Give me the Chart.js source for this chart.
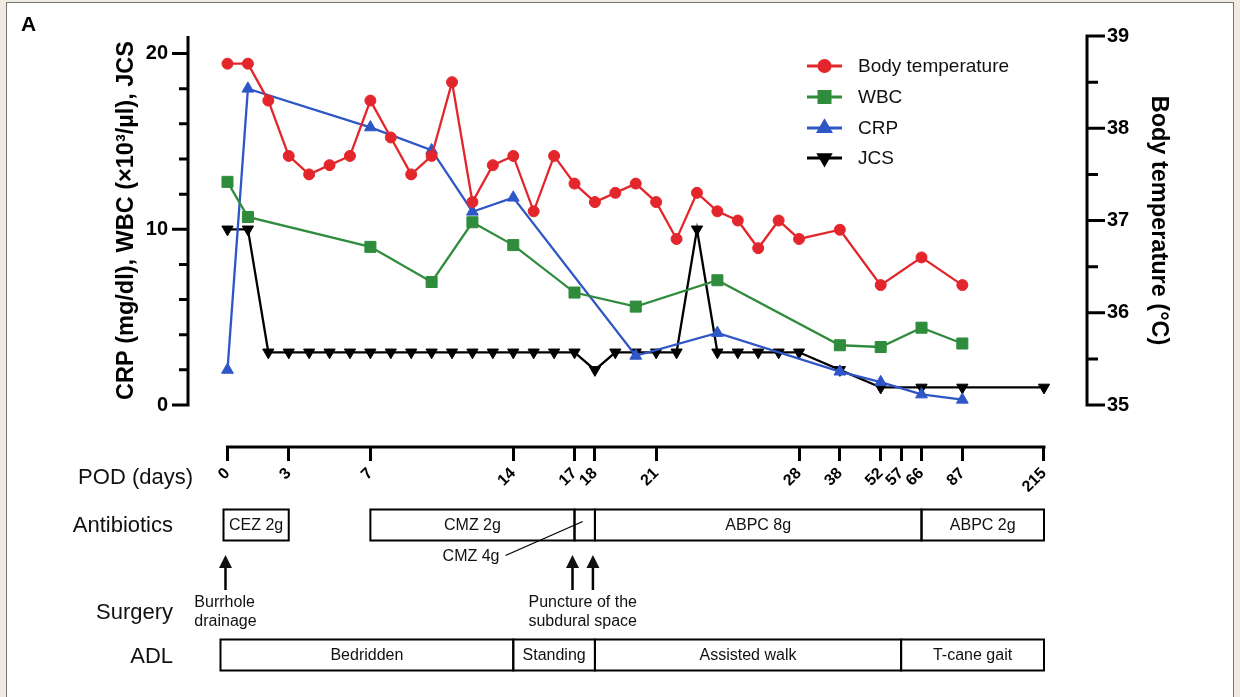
<!DOCTYPE html>
<html lang="en">
<head>
<meta charset="UTF-8">
<title>Clinical course</title>
<style>
    body {
        margin: 0;
        background: #efebe2;
    }
    .frame {
        position: absolute;
        left: 6px;
        top: 2px;
        width: 1226px;
        height: 700px;
        background: #fff;
        border: 1px solid #777;
        border-bottom: none;
    }
    .wrap {
        position: absolute;
        left: 0;
        top: 0;
        width: 1240px;
        height: 697px;
    }
</style>
<script src="https://cdn.jsdelivr.net/npm/chart.js"></script>
</head>
<body>
<div class="frame"></div>
<div class="wrap"><canvas id="courseChart" width="1240" height="697"></canvas></div>

<script>
    // x axis is broken after day 28: one slot per day, wider steps afterwards
    const slotDays = [0, 1, 2, 3, 4, 5, 6, 7, 8, 9, 10, 11, 12, 13, 14, 15, 16, 17, 18, 19, 20,
        21, 22, 23, 24, 25, 26, 27, 28, null, 38, null, 52, 57, 66, null, 87, null, null, null, 215];
    const podTicks = [0, 3, 7, 14, 17, 18, 21, 28, 38, 52, 57, 66, 87, 215];

    const tempDays = [0, 1, 2, 3, 4, 5, 6, 7, 8, 9, 10, 11, 12, 13, 14, 15, 16, 17, 18, 19, 20,
        21, 22, 23, 24, 25, 26, 27, 28, 38, 52, 66, 87];
    const tempValues = [38.7, 38.7, 38.3, 37.7, 37.5, 37.6, 37.7, 38.3, 37.9, 37.5, 37.7, 38.5, 37.2,
        37.6, 37.7, 37.1, 37.7, 37.4, 37.2, 37.3, 37.4, 37.2, 36.8, 37.3, 37.1, 37.0, 36.7, 37.0,
        36.8, 36.9, 36.3, 36.6, 36.3];

    const wbcDays = [0, 1, 7, 10, 12, 14, 17, 20, 24, 38, 52, 66, 87];
    const wbcValues = [12.7, 10.7, 9.0, 7.0, 10.4, 9.1, 6.4, 5.6, 7.1, 3.4, 3.3, 4.4, 3.5];

    const crpDays = [0, 1, 7, 10, 12, 14, 20, 24, 38, 52, 66, 87];
    const crpValues = [2.0, 18.0, 15.8, 14.5, 11.0, 11.8, 2.8, 4.1, 1.9, 1.3, 0.6, 0.3];

    const jcsDays = [0, 1, 2, 3, 4, 5, 6, 7, 8, 9, 10, 11, 12, 13, 14, 15, 16, 17, 18, 19, 20,
        21, 22, 23, 24, 25, 26, 27, 28, 38, 52, 66, 87, 215];
    const jcsValues = [10, 10, 3, 3, 3, 3, 3, 3, 3, 3, 3, 3, 3, 3, 3, 3, 3, 3, 2, 3, 3,
        3, 3, 10, 3, 3, 3, 3, 3, 2, 1, 1, 1, 1];

    const antibioticNames = ['CEZ 2g', 'CMZ 2g', 'CMZ 4g', 'ABPC 8g', 'ABPC 2g'];
    const antibioticStart = [0, 7, 17, 18, 66];
    const antibioticEnd = [3, 17, 18, 66, 215];

    const surgeryDays = [0, 17, 18];
    const surgeryNoteDays = [[0], [17, 18]];
    const surgeryNotes = [['Burrhole', 'drainage'], ['Puncture of the', 'subdural space']];

    const adlNames = ['Bedridden', 'Standing', 'Assisted walk', 'T-cane gait'];
    const adlStart = [0, 14, 18, 57];
    const adlEnd = [14, 18, 57, 215];

    const FONT = "'Liberation Sans', Arial, sans-serif";
    const RED = '#e3262b';
    const GREEN = '#2f8c3c';
    const BLUE = '#2f56c6';
    const BLACK = '#000';

    function slot(day) {
        return slotDays.indexOf(day);
    }
    function toPoints(days, values) {
        return days.map((d, i) => ({ x: slot(d), y: values[i] }));
    }

    function series(label, days, values, color, style, radius, axis, rotation) {
        return {
            label: label,
            data: toPoints(days, values),
            yAxisID: axis,
            borderColor: color,
            backgroundColor: color,
            pointBackgroundColor: color,
            pointBorderColor: color,
            pointStyle: style,
            pointRadius: radius,
            pointRotation: rotation || 0,
            pointBorderWidth: 1,
            borderWidth: 2.3,
            tension: 0
        };
    }

    // axis lines, titles, legend and the timeline rows under the axis
    const decorPlugin = {
        id: 'decor',
        afterDraw(chart) {
            const ctx = chart.ctx;
            const area = chart.chartArea;
            const xs = chart.scales.x;
            const yl = chart.scales.y;
            const yr = chart.scales.yT;
            const px = d => xs.getPixelForValue(slot(d));
            ctx.save();
            ctx.strokeStyle = '#000';
            ctx.fillStyle = '#000';
            ctx.lineCap = 'butt';

            // left axis
            ctx.lineWidth = 3;
            ctx.beginPath();
            ctx.moveTo(area.left, yl.getPixelForValue(0) + 1.5);
            ctx.lineTo(area.left, yl.getPixelForValue(21));
            for (let v = 0; v <= 20; v += 2) {
                const len = v % 10 === 0 ? 16 : 9;
                const y = yl.getPixelForValue(v);
                ctx.moveTo(area.left - len, y);
                ctx.lineTo(area.left, y);
            }
            ctx.stroke();

            // right axis
            ctx.beginPath();
            ctx.moveTo(area.right, yr.getPixelForValue(35) + 1.5);
            ctx.lineTo(area.right, yr.getPixelForValue(39) - 1.5);
            for (let v = 35; v <= 39; v += 0.5) {
                const len = v % 1 === 0 ? 18 : 11;
                const y = yr.getPixelForValue(v);
                ctx.moveTo(area.right, y);
                ctx.lineTo(area.right + len, y);
            }
            ctx.stroke();

            // x axis line
            ctx.beginPath();
            ctx.moveTo(px(0) - 1.5, area.bottom);
            ctx.lineTo(px(215) + 1.5, area.bottom);
            ctx.stroke();

            // axis titles
            ctx.font = 'bold 23.5px ' + FONT;
            ctx.textAlign = 'center';
            ctx.textBaseline = 'middle';
            ctx.save();
            ctx.translate(127, (yl.getPixelForValue(0) + yl.getPixelForValue(21)) / 2);
            ctx.rotate(-Math.PI / 2);
            ctx.fillText('CRP (mg/dl), WBC (×10³/µl), JCS', 0, 0);
            ctx.restore();
            ctx.save();
            ctx.translate(1158, (yr.getPixelForValue(35) + yr.getPixelForValue(39)) / 2);
            ctx.rotate(Math.PI / 2);
            ctx.fillText('Body temperature (°C)', 0, 0);
            ctx.restore();

            // panel letter
            ctx.font = 'bold 21px ' + FONT;
            ctx.textAlign = 'left';
            ctx.fillText('A', 21, 25);

            // legend
            const rows = [66, 97, 128, 158];
            chart.data.datasets.forEach((ds, i) => {
                const y = rows[i];
                ctx.strokeStyle = ds.borderColor;
                ctx.lineWidth = 3;
                ctx.beginPath();
                ctx.moveTo(807, y);
                ctx.lineTo(842, y);
                ctx.stroke();
                Chart.helpers.drawPoint(ctx, {
                    pointStyle: ds.pointStyle,
                    radius: ds.pointRadius,
                    rotation: ds.pointRotation,
                    borderWidth: 1
                }, 824.5, y);
                ctx.fillStyle = ds.borderColor;
                ctx.fill();
                ctx.fillStyle = '#111';
                ctx.font = '19px ' + FONT;
                ctx.textAlign = 'left';
                ctx.textBaseline = 'middle';
                ctx.fillText(ds.label, 858, y + 1);
            });

            // row labels
            ctx.fillStyle = '#111';
            ctx.strokeStyle = '#000';
            ctx.font = '22px ' + FONT;
            ctx.textAlign = 'right';
            ctx.fillText('POD (days)', 193, 478);
            ctx.fillText('Antibiotics', 173, 526);
            ctx.fillText('Surgery', 173, 613);
            ctx.fillText('ADL', 173, 657);

            // antibiotics
            const abTop = 509.5, abH = 31;
            ctx.lineWidth = 2;
            ctx.font = '16px ' + FONT;
            ctx.textAlign = 'center';
            antibioticNames.forEach((name, i) => {
                const x1 = px(antibioticStart[i]) - (antibioticStart[i] === 0 ? 4 : 0);
                const x2 = px(antibioticEnd[i]);
                ctx.strokeRect(x1, abTop, x2 - x1, abH);
                const w = ctx.measureText(name).width;
                if (w < x2 - x1 - 4) {
                    ctx.fillText(name, (x1 + x2) / 2, abTop + abH / 2 + 1);
                } else {
                    // too narrow: label below with a leader line
                    const right = x1 - 75;
                    ctx.textAlign = 'right';
                    ctx.fillText(name, right, abTop + abH + 16);
                    ctx.textAlign = 'center';
                    ctx.lineWidth = 1.3;
                    ctx.beginPath();
                    ctx.moveTo(right + 6, abTop + abH + 15);
                    ctx.lineTo((x1 + x2) / 2 - 2, abTop + 12);
                    ctx.stroke();
                    ctx.lineWidth = 2;
                }
            });

            // surgery arrows
            surgeryDays.forEach(d => {
                const x = px(d) - 2;
                ctx.lineWidth = 2.5;
                ctx.beginPath();
                ctx.moveTo(x, 590);
                ctx.lineTo(x, 566);
                ctx.stroke();
                ctx.beginPath();
                ctx.moveTo(x, 555);
                ctx.lineTo(x - 6.5, 568);
                ctx.lineTo(x + 6.5, 568);
                ctx.closePath();
                ctx.fill();
            });
            ctx.font = '16px ' + FONT;
            ctx.textAlign = 'left';
            surgeryNotes.forEach((lines, i) => {
                const days = surgeryNoteDays[i];
                const cx = days.reduce((s, d) => s + px(d), 0) / days.length - 2;
                const w = Math.max(...lines.map(l => ctx.measureText(l).width));
                lines.forEach((l, j) => ctx.fillText(l, cx - w / 2, 602.5 + j * 19));
            });

            // ADL
            const adlTop = 639.5, adlH = 31;
            ctx.lineWidth = 2;
            ctx.textAlign = 'center';
            adlNames.forEach((name, i) => {
                const x1 = px(adlStart[i]) - (adlStart[i] === 0 ? 7 : 0);
                const x2 = px(adlEnd[i]);
                ctx.strokeRect(x1, adlTop, x2 - x1, adlH);
                ctx.fillText(name, (x1 + x2) / 2, adlTop + adlH / 2 + 1);
            });
            ctx.restore();
        }
    };

    const ctx = document.getElementById('courseChart').getContext('2d');
    new Chart(ctx, {
        type: 'line',
        data: {
            datasets: [
                series('Body temperature', tempDays, tempValues, RED, 'circle', 5.5, 'yT'),
                series('WBC', wbcDays, wbcValues, GREEN, 'rect', 7.8, 'y'),
                series('CRP', crpDays, crpValues, BLUE, 'triangle', 6.8, 'y'),
                series('JCS', jcsDays, jcsValues, BLACK, 'triangle', 6.5, 'y', 180)
            ]
        },
        options: {
            responsive: false,
            animation: false,
            layout: {
                padding: { left: 0, right: 0, top: 36, bottom: 190 }
            },
            plugins: {
                legend: { display: false },
                tooltip: { enabled: false }
            },
            scales: {
                x: {
                    type: 'linear',
                    min: -1.935,
                    max: 42.107,
                    afterBuildTicks: s => { s.ticks = podTicks.map(d => ({ value: slot(d) })); },
                    afterFit: s => { s.height = 60; },
                    border: { display: false },
                    grid: {
                        drawOnChartArea: false,
                        drawTicks: true,
                        tickLength: 14,
                        tickWidth: 3,
                        tickColor: '#000'
                    },
                    ticks: {
                        autoSkip: false,
                        minRotation: 45,
                        maxRotation: 45,
                        padding: 3,
                        color: '#000',
                        font: { family: FONT, size: 16, weight: 'bold' },
                        callback: v => String(slotDays[Math.round(v)])
                    }
                },
                y: {
                    position: 'left',
                    min: -2.39,
                    max: 21,
                    afterBuildTicks: s => { s.ticks = [0, 10, 20].map(v => ({ value: v })); },
                    afterFit: s => { s.width = 188; },
                    border: { display: false },
                    grid: { display: false, drawTicks: false },
                    ticks: {
                        padding: 20,
                        color: '#000',
                        font: { family: FONT, size: 20, weight: 'bold' }
                    }
                },
                yT: {
                    position: 'right',
                    min: 34.545,
                    max: 39,
                    afterBuildTicks: s => { s.ticks = [35, 36, 37, 38, 39].map(v => ({ value: v })); },
                    afterFit: s => { s.width = 153; },
                    border: { display: false },
                    grid: { display: false, drawTicks: false },
                    ticks: {
                        padding: 20,
                        color: '#000',
                        font: { family: FONT, size: 20, weight: 'bold' }
                    }
                }
            }
        },
        plugins: [decorPlugin]
    });
</script>
</body>
</html>
